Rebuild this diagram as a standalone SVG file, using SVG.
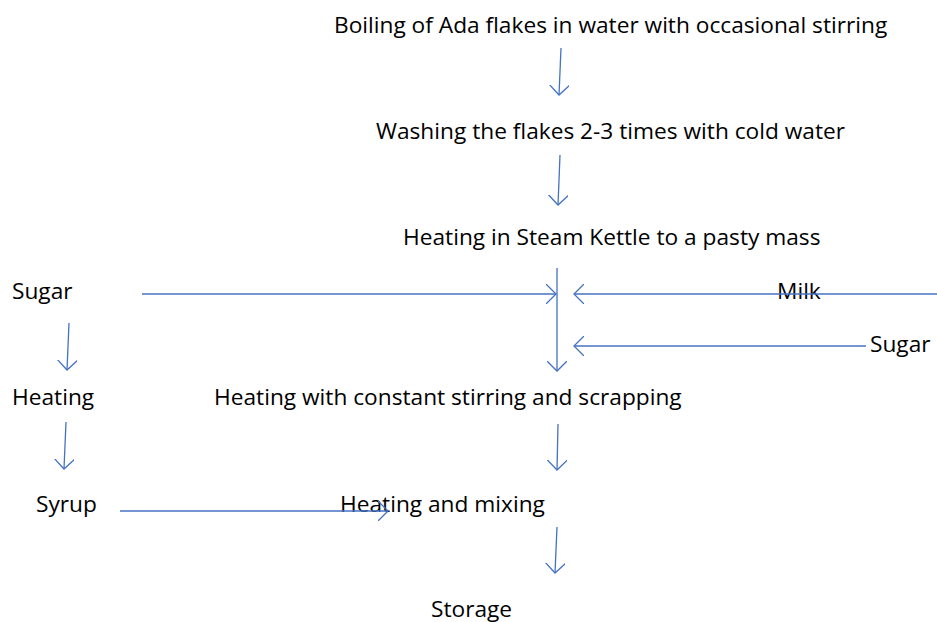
<svg xmlns="http://www.w3.org/2000/svg" width="937" height="622" viewBox="0 0 937 622">
<defs>
<marker id="ah" viewBox="0 0 20 20" refX="10" refY="10" markerWidth="20" markerHeight="20" markerUnits="userSpaceOnUse" orient="auto">
<path d="M0,0 L10,10 L0,20" fill="none" stroke="#4472C4" stroke-width="1.3"/>
</marker>
<style>
text{font-family:"Open Sans","Noto Sans",sans-serif;font-size:22.7px;fill:#000}
.c line{stroke:#4472C4;stroke-width:1.3;marker-end:url(#ah)}
</style>
</defs>
<rect width="937" height="622" fill="#fff"/>
<g id="n1"><text x="334" y="33">Boiling of Ada flakes in water with occasional stirring</text></g>
<g id="n2"><text x="376" y="139">Washing the flakes 2-3 times with cold water</text></g>
<g id="n3"><text x="403" y="245">Heating in Steam Kettle to a pasty mass</text></g>
<g id="n4"><text x="12" y="299">Sugar</text></g>
<g id="n5"><text x="777" y="299">Milk</text></g>
<g id="n6"><text x="870" y="352">Sugar</text></g>
<g id="n7"><text x="12" y="405">Heating</text></g>
<g id="n8"><text x="214" y="405">Heating with constant stirring and scrapping</text></g>
<g id="n9"><text x="36" y="512">Syrup</text></g>
<g id="n10"><text x="340" y="512">Heating and mixing</text></g>
<g id="n11"><text x="431" y="617">Storage</text></g>
<g id="connectors" class="c">
<line x1="561" y1="48" x2="559" y2="95"/>
<line x1="560" y1="155" x2="558" y2="205"/>
<line x1="557" y1="268" x2="557" y2="371"/>
<line x1="142" y1="294" x2="556" y2="294"/>
<line x1="937" y1="294" x2="574" y2="294"/>
<line x1="866" y1="346" x2="574" y2="346"/>
<line x1="69" y1="323" x2="67" y2="370"/>
<line x1="66" y1="422" x2="64" y2="469"/>
<line x1="120" y1="511" x2="388" y2="511"/>
<line x1="558" y1="424" x2="557" y2="470"/>
<line x1="557" y1="527" x2="555" y2="573"/>
</g>
</svg>
